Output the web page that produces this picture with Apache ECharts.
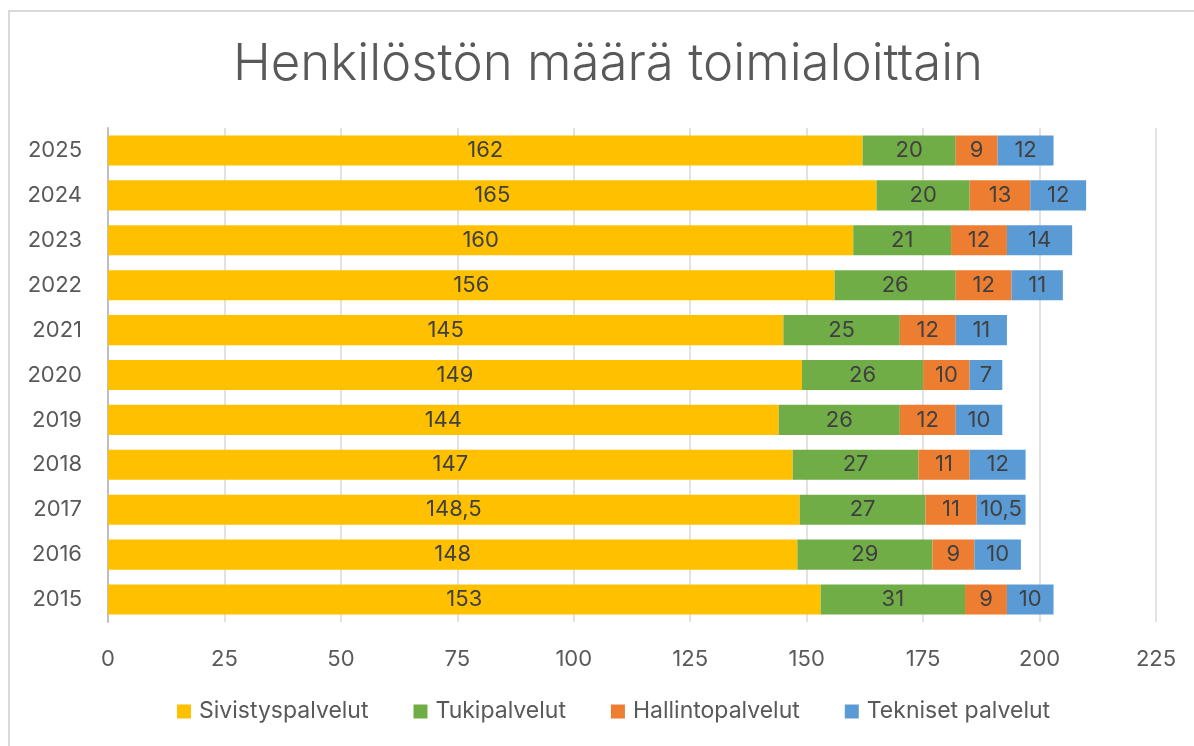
<!DOCTYPE html>
<html>
<head>
<meta charset="utf-8">
<script src="https://cdn.jsdelivr.net/npm/echarts@6/dist/echarts.min.js"></script>
<style>
  html, body { margin: 0; padding: 0; background: #fff; }
  #frame {
    position: absolute; left: 8px; top: 10px; width: 1200px; height: 750px;
    border-top: 2px solid #d9d9d9; border-left: 2px solid #d9d9d9;
  }
  #chart { position: absolute; left: 0; top: 0; width: 1194px; height: 746px; }
</style>
</head>
<body>
<div id="frame"></div>
<div id="chart"></div>
<script>
  // vuodet alhaalta ylös
  const years = ['2015', '2016', '2017', '2018', '2019', '2020', '2021', '2022', '2023', '2024', '2025'];
  const sivistys = [153, 148, 148.5, 147, 144, 149, 145, 156, 160, 165, 162];
  const tuki = [31, 29, 27, 27, 26, 26, 25, 26, 21, 20, 20];
  const hallinto = [9, 9, 11, 11, 12, 10, 12, 12, 12, 13, 9];
  const tekniset = [10, 10, 10.5, 12, 10, 7, 11, 11, 14, 12, 12];
  const seriesNames = ['Sivistyspalvelut', 'Tukipalvelut', 'Hallintopalvelut', 'Tekniset palvelut'];
  const colors = ['#FFC000', '#70AD47', '#ED7D31', '#5B9BD5'];

  const font = 'Inter, "Noto Sans", sans-serif';
  const chart = echarts.init(document.getElementById('chart'));

  function makeSeries(name, data) {
    return {
      name: name,
      type: 'bar',
      stack: 'total',
      barCategoryGap: '33%',
      data: data,
      label: {
        show: true,
        position: 'inside',
        color: '#404040',
        fontSize: 22,
        fontFamily: font,
        formatter: p => String(p.value).replace('.', ',')
      }
    };
  }

  chart.setOption({
    color: colors,
    title: {
      text: 'Henkilöstön määrä toimialoittain',
      left: 228,
      top: 34,
      textStyle: { fontSize: 51, fontWeight: 300, color: '#595959', fontFamily: font }
    },
    legend: {
      bottom: 18,
      left: 172,
      itemWidth: 14,
      itemHeight: 14,
      itemGap: 45,
      icon: 'rect',
      textStyle: { fontSize: 23, color: '#595959', fontFamily: font, padding: [0, 0, 0, 3] },
      data: seriesNames
    },
    grid: { left: 108, right: 38, top: 128, bottom: 124 },
    xAxis: {
      type: 'value',
      min: 0,
      max: 225,
      interval: 25,
      axisLine: { show: false },
      axisTick: { show: false },
      splitLine: { lineStyle: { color: '#d9d9d9', width: 1.5 } },
      axisLabel: { fontSize: 22, color: '#595959', fontFamily: font, margin: 26 }
    },
    yAxis: {
      type: 'category',
      data: years,
      axisLine: { show: true, lineStyle: { color: '#bfbfbf', width: 2 } },
      axisTick: { show: false },
      axisLabel: { fontSize: 22, color: '#595959', fontFamily: font, margin: 26 }
    },
    series: [
      makeSeries(seriesNames[0], sivistys),
      makeSeries(seriesNames[1], tuki),
      makeSeries(seriesNames[2], hallinto),
      makeSeries(seriesNames[3], tekniset)
    ]
  });
</script>
</body>
</html>
